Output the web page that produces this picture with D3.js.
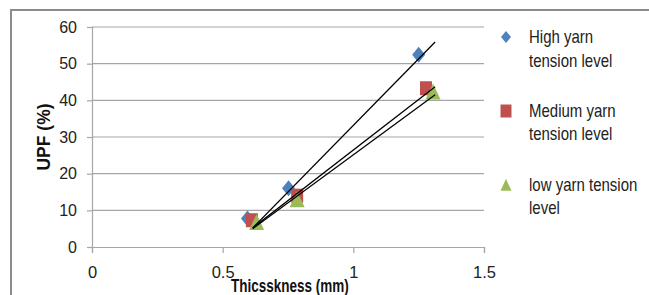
<!DOCTYPE html>
<html>
<head>
<meta charset="utf-8">
<script src="https://cdn.jsdelivr.net/npm/d3@7"></script>
<style>
  body { margin: 0; background: #fff; }
  svg { display: block; font-family: "Liberation Sans", Arial, sans-serif; }
</style>
</head>
<body>
<svg id="svg" width="649" height="295"></svg>
<script>
// values
var seriesNames = ["High yarn tension level", "Medium yarn tension level", "low yarn tension level"];
var legendLines = [["High yarn", "tension level"], ["Medium yarn", "tension level"], ["low yarn tension", "level"]];

var highX = [0.595, 0.752, 1.250];
var highY = [7.8, 16.0, 52.4];
var mediumX = [0.612, 0.785, 1.278];
var mediumY = [7.3, 14.0, 43.3];
var lowX = [0.630, 0.785, 1.305];
var lowY = [6.4, 12.6, 42.0];

// linear trendlines, start/end
var trendX = [0.615, 1.313];
var highTrend = [5.2, 55.9];
var mediumTrend = [5.2, 43.7];
var lowTrend = [5.0, 41.5];

var xTicks = [0, 0.5, 1, 1.5];
var yTicks = [0, 10, 20, 30, 40, 50, 60];

var colors = ["#4F81BD", "#C0504D", "#9BBB59"];

var svg = d3.select("#svg");
var margin = {top: 27, right: 165, bottom: 48, left: 92};
var width = 649, height = 295;

var x = d3.scaleLinear().domain([0, 1.5]).range([margin.left, width - margin.right]);
var y = d3.scaleLinear().domain([0, 60]).range([height - margin.bottom, margin.top]);

// chart frame
svg.append("path")
    .attr("d", "M11,300 L11,10 L649,10")
    .attr("fill", "none")
    .attr("stroke", "#8c8c8c")
    .attr("stroke-width", 2);

// gridlines
svg.append("g")
  .selectAll("line")
  .data(yTicks.slice(1))
  .join("line")
    .attr("x1", x(0))
    .attr("x2", x(1.5))
    .attr("y1", d => y(d))
    .attr("y2", d => y(d))
    .attr("stroke", "#a6a6a6")
    .attr("stroke-width", 1.2);

// y axis
var yAxis = svg.append("g")
    .attr("transform", "translate(" + x(0) + ",0)")
    .call(d3.axisLeft(y).tickValues(yTicks).tickSize(5).tickPadding(10));
yAxis.selectAll("text").attr("font-size", 16).attr("fill", "#222").attr("font-family", "Liberation Sans, Arial");

// x axis
var xAxis = svg.append("g")
    .attr("transform", "translate(0," + y(0) + ")")
    .call(d3.axisBottom(x).tickValues(xTicks).tickFormat(d3.format("")).tickSize(6).tickPadding(13));
xAxis.selectAll("text").attr("font-size", 16.5).attr("fill", "#222").attr("font-family", "Liberation Sans, Arial");

svg.selectAll(".domain, .tick line").attr("stroke", "#a6a6a6").attr("stroke-width", 1.2);

// axis titles (the picture's text is drawn tall and narrow)
svg.append("text")
    .attr("transform", "translate(231,291.7) scale(1,1.38)")
    .attr("font-size", 13.5)
    .attr("font-weight", "bold")
    .attr("fill", "#111")
    .text("Thicsskness (mm)");

svg.append("text")
    .attr("transform", "translate(50,137) rotate(-90)")
    .attr("text-anchor", "middle")
    .attr("font-size", 17.5)
    .attr("font-weight", "bold")
    .attr("fill", "#111")
    .text("UPF (%)");

// marker shapes
var diamond = function(w, h) { return "M0," + (-h / 2) + "L" + (w / 2) + ",0L0," + (h / 2) + "L" + (-w / 2) + ",0Z"; };
var square = function(w, h) { return "M" + (-w / 2) + "," + (-h / 2) + "h" + w + "v" + h + "h" + (-w) + "Z"; };
var triangle = function(w, h) { return "M0," + (-h * 0.6) + "L" + (w / 2) + "," + (h * 0.4) + "L" + (-w / 2) + "," + (h * 0.4) + "Z"; };

var series = [
  {xs: highX, ys: highY, shape: diamond(13, 16), trend: highTrend},
  {xs: mediumX, ys: mediumY, shape: square(12, 14), trend: mediumTrend},
  {xs: lowX, ys: lowY, shape: triangle(15, 16), trend: lowTrend}
];

series.forEach(function(s, i) {
  svg.append("g")
    .selectAll("path")
    .data(d3.range(s.xs.length))
    .join("path")
      .attr("d", s.shape)
      .attr("transform", j => "translate(" + x(s.xs[j]) + "," + y(s.ys[j]) + ")")
      .attr("fill", colors[i]);
});

var line = d3.line().x(d => x(d[0])).y(d => y(d[1]));
series.forEach(function(s) {
  svg.append("path")
      .attr("d", line(d3.zip(trendX, s.trend)))
      .attr("fill", "none")
      .attr("stroke", "#000")
      .attr("stroke-width", 1.3);
});

// legend
var legendShapes = [diamond(10, 12), square(11, 13), triangle(11, 12)];
var markerY = [37, 111, 186];
var baseY = [43.3, 117, 190.5];
var legend = svg.append("g");
seriesNames.forEach(function(name, i) {
  legend.append("path")
      .attr("d", legendShapes[i])
      .attr("transform", "translate(506," + markerY[i] + ")")
      .attr("fill", colors[i]);
  legendLines[i].forEach(function(t, k) {
    legend.append("text")
        .attr("transform", "translate(529," + (baseY[i] + k * 23.4) + ") scale(1,1.25)")
        .attr("font-size", 15)
        .attr("fill", "#222")
        .text(t);
  });
});
</script>
</body>
</html>
